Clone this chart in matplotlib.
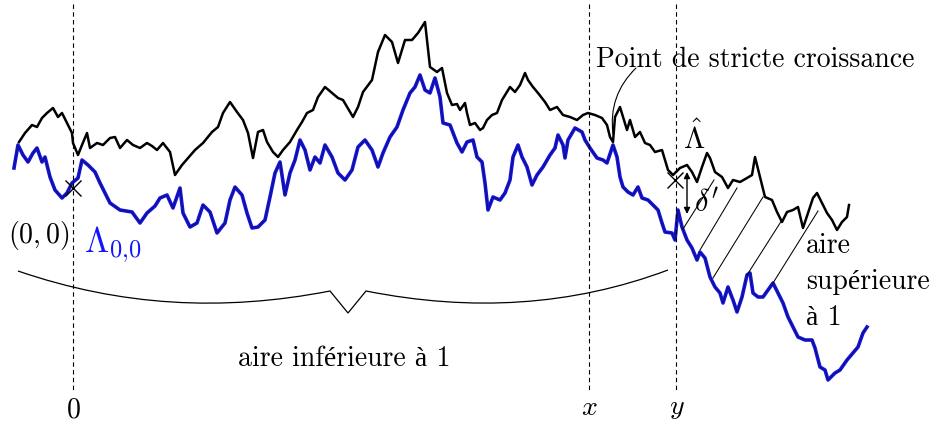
import matplotlib
matplotlib.use("Agg")
import matplotlib.pyplot as plt
from matplotlib.path import Path
from matplotlib.patches import PathPatch

plt.rcParams['mathtext.fontset'] = 'cm'
plt.rcParams['font.family'] = ['cmr10', 'Liberation Serif']
plt.rcParams['axes.unicode_minus'] = False

# paths (x right, y down, in picture pixels)
hat_x = [19, 25, 32, 37, 42, 47, 53, 58, 62, 67, 72, 73, 78, 82, 87, 90, 97, 103, 110, 115,
         120, 127, 133, 140, 147, 152, 157, 163, 170, 175, 182, 188, 195, 203, 212, 218, 223, 230, 237, 243,
         248, 253, 258, 263, 267, 273, 278, 283, 290, 297, 302, 307, 313, 318, 325, 332, 338, 343, 353, 358,
         363, 372, 378, 385, 392, 398, 405, 412, 418, 425, 430, 437, 442, 447, 452, 457, 460, 465, 467, 470,
         475, 480, 483, 487, 492, 497, 502, 507, 510, 515, 520, 525, 528, 533, 538, 545, 550, 557, 563, 570,
         577, 583, 588, 595, 602, 607, 610, 613, 615, 620, 623, 627, 630, 635, 640, 645, 650, 655, 662, 665,
         668, 673, 680, 687, 692, 697, 702, 707, 710, 715, 722, 728, 733, 740, 747, 752, 755, 760, 765, 772,
         777, 782, 787, 793, 798, 803, 808, 813, 817, 822, 827, 832, 837, 842, 847, 849]
hat_y = [142, 133, 125, 127, 118, 113, 108, 117, 113, 123, 133, 143, 155, 145, 133, 148, 143, 145, 138, 137,
         148, 140, 145, 148, 143, 146, 150, 143, 152, 175, 165, 158, 150, 143, 132, 127, 113, 102, 112, 120,
         133, 158, 132, 130, 142, 152, 157, 150, 142, 130, 122, 113, 110, 97, 87, 93, 98, 100, 117, 107,
         92, 80, 52, 35, 42, 63, 40, 40, 33, 22, 67, 72, 68, 93, 105, 104, 110, 103, 113, 125,
         123, 130, 128, 120, 115, 113, 100, 92, 87, 92, 85, 73, 80, 87, 93, 102, 110, 107, 115, 117,
         120, 115, 113, 115, 118, 125, 137, 142, 117, 107, 117, 130, 120, 137, 132, 143, 145, 152, 150, 160,
         170, 175, 168, 165, 172, 182, 167, 153, 158, 172, 177, 188, 180, 182, 178, 175, 157, 177, 197, 200,
         212, 222, 212, 210, 207, 228, 213, 198, 193, 203, 213, 220, 230, 222, 217, 205]

lam_x = [14, 18, 23, 28, 33, 37, 42, 45, 50, 55, 62, 67, 72, 78, 82, 88, 95, 100, 105, 110,
         120, 132, 140, 147, 155, 160, 167, 173, 180, 183, 190, 197, 203, 210, 217, 225, 230, 235, 242, 247,
         252, 258, 265, 270, 275, 280, 285, 290, 295, 300, 305, 310, 315, 320, 325, 332, 338, 345, 352, 358,
         365, 372, 378, 383, 390, 397, 403, 410, 415, 420, 425, 430, 435, 440, 443, 450, 457, 462, 467, 473,
         477, 482, 485, 488, 493, 500, 505, 510, 513, 518, 522, 527, 532, 537, 543, 550, 555, 558, 563, 565,
         568, 575, 582, 585, 590, 597, 603, 607, 613, 617, 620, 623, 628, 633, 638, 642, 648, 653, 658, 662,
         665, 672, 675, 678, 682, 687, 692, 697, 700, 705, 710, 715, 720, 723, 728, 733, 737, 742, 747, 750,
         753, 758, 763, 768, 773, 778, 783, 788, 793, 798, 805, 812, 815, 820, 825, 828, 835, 840, 847, 853,
         858, 863, 867]
lam_y = [168, 145, 155, 162, 153, 148, 162, 157, 177, 190, 198, 193, 183, 178, 160, 165, 172, 183, 193, 203,
         210, 212, 223, 213, 206, 198, 195, 208, 188, 213, 227, 223, 205, 212, 233, 223, 200, 187, 195, 213,
         228, 227, 220, 197, 173, 162, 195, 173, 160, 140, 150, 170, 157, 163, 145, 157, 173, 180, 170, 147,
         140, 150, 167, 153, 137, 127, 110, 93, 87, 75, 90, 93, 78, 97, 123, 125, 143, 152, 142, 140,
         157, 162, 183, 210, 197, 200, 193, 180, 157, 145, 157, 167, 185, 175, 167, 155, 148, 135, 145, 158,
         140, 128, 132, 140, 148, 158, 160, 163, 145, 157, 177, 187, 192, 195, 187, 198, 200, 205, 210, 223,
         232, 233, 240, 210, 227, 240, 248, 260, 252, 258, 277, 287, 293, 303, 287, 300, 312, 297, 275, 273,
         293, 297, 297, 290, 283, 293, 303, 317, 327, 337, 340, 340, 348, 367, 370, 380, 373, 370, 360, 353,
         347, 333, 327]

# hatch segments between the two paths
hatch_segments = [((683, 229), (714, 180)), ((700, 250), (737, 188)), ((713, 278), (763, 197)),
                  ((747, 275), (782, 220)), ((773, 283), (818, 211))]

dash_x = [73, 589, 676]

fig = plt.figure(figsize=(9.33, 4.26), dpi=100)
ax = fig.add_axes([0, 0, 1, 1])
ax.set_xlim(0, 933)
ax.set_ylim(426, 0)
ax.axis('off')

ax.plot(lam_x, lam_y, color='#1414e0', lw=2.6)
ax.plot(lam_x, lam_y, color='#10106a', lw=0.6)
ax.plot(hat_x, hat_y, color='black', lw=1.8)

for xd in dash_x:
    ax.plot([xd, xd], [4, 392], color='black', lw=0.8, ls=(0, (4, 3)))

ax.text(dash_x[0], 410, r'$0$', fontsize=20, ha='center', va='center')
ax.text(dash_x[1], 408, r'$x$', fontsize=20, ha='center', va='center')
ax.text(dash_x[2] + 1, 408, r'$y$', fontsize=20, ha='center', va='center')

for p0, p1 in hatch_segments:
    ax.plot([p0[0], p1[0]], [p0[1], p1[1]], color='black', lw=0.75)

# crosses
ax.plot([73, 675], [188, 180], 'x', color='black', ms=11, mew=1.0)

# brace
verts = [(18, 271), (120, 306), (222, 312), (330, 291), (348, 313), (366, 291),
         (472, 312), (572, 306), (668, 270)]
codes = [Path.MOVETO, Path.CURVE4, Path.CURVE4, Path.CURVE4, Path.LINETO, Path.LINETO,
         Path.CURVE4, Path.CURVE4, Path.CURVE4]
ax.add_patch(PathPatch(Path(verts, codes), fill=False, color='black', lw=0.9))

ax.text(344, 366, 'aire inférieure à 1', fontsize=20, ha='center', va='baseline')
ax.text(39, 236, r'$(0,0)$', fontsize=20, ha='center', va='center')
ax.text(84, 252, r'$\Lambda_{0{,}0}$', fontsize=25, color='#1414ff', ha='left', va='baseline')

ax.text(596, 67, 'Point de stricte croissance', fontsize=20, ha='left', va='baseline')
ax.annotate('', xy=(613, 134), xytext=(636, 68),
            arrowprops=dict(arrowstyle='-', color='black', lw=0.8,
                            connectionstyle='arc3,rad=0.25', shrinkA=0, shrinkB=0))

ax.text(694, 149, r'$\hat{\Lambda}$', fontsize=22, ha='center', va='baseline')
ax.annotate('', xy=(687, 214), xytext=(687, 172),
            arrowprops=dict(arrowstyle='<|-|>', color='black', lw=1.0,
                            mutation_scale=9, shrinkA=0, shrinkB=0))
ax.text(694, 211, r"$\delta'$", fontsize=22, ha='left', va='baseline')

for label, yb in zip(['aire', 'supérieure', 'à 1'], [253, 289, 325]):
    ax.text(806, yb, label, fontsize=20, ha='left', va='baseline')

fig.savefig('out.png', dpi=100)
